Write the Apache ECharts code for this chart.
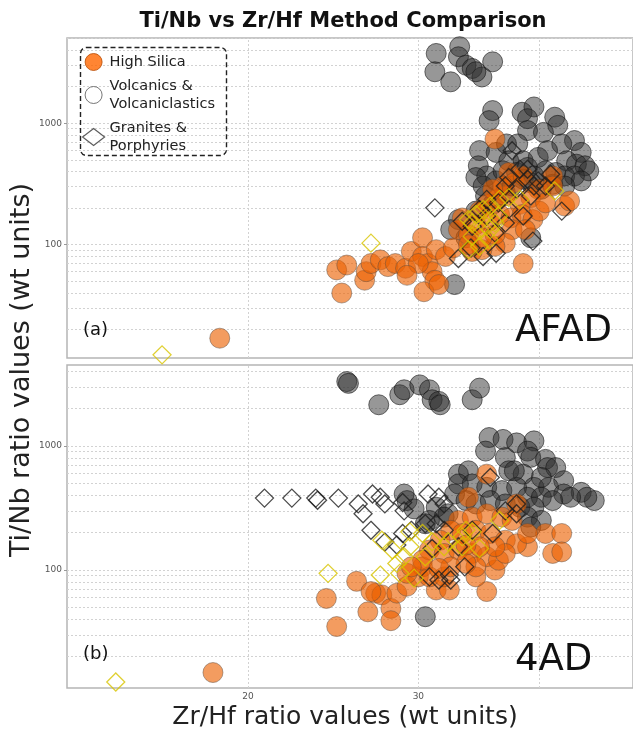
<!DOCTYPE html>
<html>
<head>
<meta charset="utf-8">
<script src="https://cdn.jsdelivr.net/npm/echarts@6/dist/echarts.min.js"></script>
<style>
html,body{margin:0;padding:0;background:#fff;}
#chart{width:633px;height:734px;}
</style>
</head>
<body>
<div id="chart"></div>
<script>
// ---------- axis ranges & ticks ----------
const xRange = [13, 50];
const yRangeA = [11.68, 5025];
const yRangeB = [11.18, 4500];
const xGridValues = [20, 30, 40];
const xLabelValues = [20, 30];
const yGridValues = [20, 30, 40, 50, 60, 70, 80, 90, 100, 200, 300, 400, 500, 600, 700, 800, 900, 1000, 2000, 3000, 4000, 5000];
const yLabelValues = [100, 1000];

// ---------- panel (a) AFAD ----------
const afadVolc = [
[31.3,3750],[33.1,4260],[33.0,3520],[31.2,2650],[32.4,2190],[33.6,3000],[34.1,2820],[34.9,2400],[35.8,3200],[34.4,2650],
[35.8,1270],[35.5,1050],[38.4,1230],[39.5,1360],[38.9,1090],[41.5,1120],[41.8,960],[38.9,870],[40.4,840],[43.5,720],
[44.2,575],[42.2,675],[34.7,595],[36.1,575],[37.0,675],[38.0,675],[37.2,490],[38.5,490],[39.9,523],[40.8,595],
[42.7,490],[43.7,460],[44.6,446],[45.0,405],[34.6,446],[35.3,368],[34.4,357],[35.0,304],[36.1,335],[36.7,405],
[37.9,393],[38.9,432],[39.5,368],[40.6,405],[41.6,393],[42.5,368],[43.5,368],[44.2,335],[42.5,304],[41.3,314],
[35.2,252],[35.8,215],[34.4,189],[33.0,161],[32.4,133],[33.6,114],[32.7,47],[39.2,114],[36.9,268],[40.2,286],
[38.5,346],[37.5,304],[39.2,324]
];
const afadHS = [
[18.7,17],
[24.7,62],[25.3,68],[25.0,40],[26.4,51],[26.5,60],[26.8,70],[27.4,75],[27.9,66],[28.4,70],[29.1,64],
[29.5,88],[30.3,114],[30.3,80],[30.7,70],[31.0,60],[31.3,91],[31.2,51],[30.4,41],[31.5,47],[32.0,80],
[32.6,94],[30.0,70],[29.2,56],
[36.0,740],[37.2,393],[37.7,324],[38.5,368],[41.3,368],[42.5,208],[43.0,229],[39.9,286],[39.2,244],[38.2,215],
[36.9,252],[36.1,236],[35.3,215],[34.7,189],[33.3,166],[33.0,133],[33.8,121],[34.4,146],[35.5,156],[36.4,177],
[37.4,166],[38.4,177],[39.4,161],[40.0,189],[40.6,221],[37.5,133],[38.7,133],[36.9,103],[36.0,97],[34.9,91],
[34.1,88],[38.5,70],[36.0,121],[34.9,114],[33.8,100],[41.3,304],[36.7,304],[35.8,286]
];
const afadGran = [
[31.2,201],[33.0,77],[33.3,156],[34.0,94],[35.0,80],[36.1,85],[39.4,107],[42.2,189],[41.1,380],[37.5,594],
[38.2,418],[38.9,418],[37.2,357],[36.9,304],[37.9,286],[39.2,252],[39.5,304],[38.5,172],[37.2,195],[36.3,221],
[35.3,236],[34.7,195],[34.1,142],[35.3,172],[36.0,125],[36.9,151],[39.9,335],[40.6,304],[38.9,346]
];
const afadHSGran = [
[16.3,12.4],[26.8,103],[41.5,277],[33.8,161],[34.4,177],[35.0,195],[35.6,208],[36.4,236],[37.2,244],[38.2,236],
[34.7,133],[35.3,142],[36.0,151],[34.1,117],[33.8,91],[34.7,97],[35.5,110],[36.3,172],[35.6,133],[34.1,151]
];

// ---------- panel (b) 4AD ----------
const ad4Volc = [
[25.3,3310],[25.4,3200],[27.3,2150],[28.7,2590],[29.0,2840],[30.1,3110],[30.8,2840],[31.0,2360],[31.5,2290],[31.6,2150],
[34.1,2360],[34.7,2930],
[35.5,1170],[36.7,1130],[37.9,1060],[39.5,1100],[35.2,910],[38.9,910],[39.2,810],[40.6,780],[40.8,670],[41.6,670],
[42.4,525],[44.2,423],[45.6,363],[44.8,386],[33.0,593],[33.8,631],[36.9,807],[37.2,631],[38.5,593],[39.5,464],
[40.9,464],[42.4,410],[43.1,386],[33.0,494],[34.1,494],[35.3,464],[36.6,437],[37.9,464],[38.9,386],[40.2,386],
[41.3,363],[32.7,410],[33.6,363],[34.4,341],[35.6,363],[36.9,341],[38.2,321],[39.5,321],[31.3,321],[32.2,284],
[30.8,251],[30.5,236],[31.9,267],[38.9,267],[40.2,251],[39.2,222],[29.2,363],[29.7,311],[29.0,410],[30.5,42],
[37.7,631],[40.2,558]
];
const ad4HS = [
[18.4,14.9],
[24.1,59],[24.7,35],[25.9,81],[26.6,46],[27.1,65],[27.5,63],[28.1,49],[28.1,39],[28.5,65],[26.8,67],
[29.2,74],[30.0,88],[31.3,69],[32.3,69],[35.3,67],[30.3,106],[29.2,94],[30.8,88],[31.9,88],[34.4,88],[36.0,100],
[35.3,593],[33.8,386],[37.9,341],[38.9,154],[40.6,197],[42.2,197],[41.3,136],[42.2,140],[33.0,251],[34.1,267],
[35.3,284],[36.6,267],[37.5,251],[32.4,209],[33.3,197],[34.4,209],[35.6,197],[36.9,174],[37.9,163],[31.6,174],
[30.8,145],[31.9,136],[33.0,145],[34.1,136],[35.3,128],[36.3,120],[34.4,106],[33.6,113],[32.4,106],[30.3,120],
[29.5,106],[31.5,103],[36.9,136],[36.0,154],[38.9,197],[34.7,154],[33.6,159]
];
const ad4Gran = [
[20.8,380],[22.2,380],[23.5,380],[23.6,365],[24.8,380],[26.0,341],[26.3,284],[26.9,410],[27.4,386],[27.7,341],
[28.9,350],[29.0,300],[30.7,410],[31.5,386],[31.9,341],[26.8,209],[27.7,168],[28.5,159],[28.9,197],[29.5,209],
[30.5,236],[31.3,236],[31.9,209],[30.8,88],[31.5,83],[32.3,91],[32.4,83],[33.5,106],[35.8,197],[36.9,300],
[37.9,341],[37.9,284],[35.6,558],[34.1,209],[33.0,154],[31.0,149]
];
const ad4HSGran = [
[14.6,12.5],[24.2,94],[27.4,91],[27.5,174],[28.7,94],[29.4,203],[29.7,86],[29.0,128],[29.4,154],[30.3,197],
[31.0,169],[32.2,169],[33.3,154],[33.6,209],[34.1,203],[34.7,149],[36.4,251],[28.5,113],[28.2,145],[30.5,128],
[31.9,154],[33.3,185]
];

// ---------- styles ----------
const FONT = 'DejaVu Sans';
const volcStyle = {color:'rgba(45,45,45,0.62)', borderColor:'rgba(20,20,20,0.75)', borderWidth:1};
const hsStyle = {color:'rgba(236,96,0,0.78)', borderColor:'rgba(95,75,60,0.6)', borderWidth:1};
const granStyle = {color:'rgba(0,0,0,0)', borderColor:'#1e1e1e', borderWidth:1.3};
const hsGranStyle = {color:'rgba(0,0,0,0)', borderColor:'#D8C400', borderWidth:1.3};

function gridMarkLine(yRange, withXLabels) {
  const data = [];
  xGridValues.forEach(v => {
    const lab = (withXLabels && xLabelValues.includes(v))
      ? {show:true, position:'start', formatter:String(v), color:'#555', fontSize:9, fontFamily:FONT, distance:4}
      : {show:false};
    data.push({xAxis:v, label:lab});
  });
  yGridValues.filter(v => v > yRange[0] && v < yRange[1]).forEach(v => data.push({yAxis:v, label:{show:false}}));
  return {
    silent:true, symbol:['none','none'], z:1, animation:false,
    lineStyle:{color:'#d2d2d2', type:[2,2], width:1},
    label:{show:false}, emphasis:{disabled:true},
    data:data
  };
}

function mkSeries(name, data, gi, symbol, size, style, ml) {
  const s = {name:name, type:'scatter', xAxisIndex:gi, yAxisIndex:gi, data:data,
    symbol:symbol, symbolSize:size, itemStyle:style, emphasis:{disabled:true}, z:2};
  if (ml) s.markLine = ml;
  return s;
}

const yLabelFmt = v => {
  const r = Math.round(Math.log10(v));
  return (Math.abs(Math.log10(v) - r) < 1e-6 && yLabelValues.includes(Math.pow(10, r))) ? String(Math.pow(10, r)) : '';
};

function yAxisDef(gi, range) {
  return {type:'log', gridIndex:gi, min:range[0], max:range[1],
    axisLine:{show:false}, splitLine:{show:false},
    axisTick:{show:true, length:3, lineStyle:{color:'#999'}},
    axisLabel:{show:true, formatter:yLabelFmt, color:'#555', fontSize:9, fontFamily:FONT, margin:5,
      showMinLabel:false, showMaxLabel:false}};
}
function xAxisDef(gi) {
  return {type:'log', gridIndex:gi, min:xRange[0], max:xRange[1],
    axisLine:{show:false}, splitLine:{show:false}, axisTick:{show:false}, axisLabel:{show:false}};
}

const chart = echarts.init(document.getElementById('chart'), null, {renderer:'canvas'});
chart.setOption({
  animation:false,
  backgroundColor:'#fff',
  title:{text:'Ti/Nb vs Zr/Hf Method Comparison', left:338, top:6, textAlign:'center',
    textStyle:{fontFamily:FONT, fontWeight:'bold', fontSize:21, color:'#111'}},
  legend:{
    orient:'vertical', left:82, top:53, padding:0, itemGap:6, itemWidth:22, itemHeight:17,
    selectedMode:false,
    textStyle:{fontFamily:FONT, fontSize:14.5, color:'#222', lineHeight:18},
    formatter: n => n.replace('& ', '&\n'),
    data:[
      {name:'High Silica', icon:'circle', itemStyle:{color:'#FF6600', borderColor:'#B84A00', borderWidth:1}},
      {name:'Volcanics & Volcaniclastics', icon:'circle', itemStyle:{color:'#fff', borderColor:'#555', borderWidth:1}},
      {name:'Granites & Porphyries', icon:'diamond', itemStyle:{color:'#fff', borderColor:'#333', borderWidth:1.2}}
    ]
  },
  grid:[
    {left:67, top:38, width:571, height:320, show:true, borderColor:'#b5b5b5', borderWidth:1.5, backgroundColor:'rgba(0,0,0,0)'},
    {left:67, top:365, width:571, height:323, show:true, borderColor:'#b5b5b5', borderWidth:1.5, backgroundColor:'rgba(0,0,0,0)'}
  ],
  xAxis:[xAxisDef(0), xAxisDef(1)],
  yAxis:[yAxisDef(0, yRangeA), yAxisDef(1, yRangeB)],
  series:[
    mkSeries('Volcanics & Volcaniclastics', afadVolc, 0, 'circle', 20, volcStyle, gridMarkLine(yRangeA, false)),
    mkSeries('High Silica', afadHS, 0, 'circle', 20, hsStyle),
    mkSeries('Granites & Porphyries', afadGran, 0, 'diamond', 18, granStyle),
    mkSeries('High Silica Granites & Porphyries', afadHSGran, 0, 'diamond', 18, hsGranStyle),
    mkSeries('Volcanics & Volcaniclastics', ad4Volc, 1, 'circle', 20, volcStyle, gridMarkLine(yRangeB, true)),
    mkSeries('High Silica', ad4HS, 1, 'circle', 20, hsStyle),
    mkSeries('Granites & Porphyries', ad4Gran, 1, 'diamond', 18, granStyle),
    mkSeries('High Silica Granites & Porphyries', ad4HSGran, 1, 'diamond', 18, hsGranStyle)
  ],
  graphic:[
    {type:'rect', left:78, top:45, shape:{width:146, height:108, r:6}, z:100,
      style:{fill:'none', stroke:'#222', lineWidth:1.4, lineDash:[5,3]}},
    {type:'text', x:22, y:370, rotation:Math.PI/2, z:100,
      style:{text:'Ti/Nb ratio values (wt units)', fontFamily:FONT, fontSize:27, fill:'#222', align:'center', verticalAlign:'middle'}},
    {type:'text', x:345, y:717, z:100,
      style:{text:'Zr/Hf ratio values (wt units)', fontFamily:FONT, fontSize:25, fill:'#222', align:'center', verticalAlign:'middle'}},
    {type:'text', x:83, y:330, z:100,
      style:{text:'(a)', fontFamily:FONT, fontSize:18, fill:'#111', align:'left', verticalAlign:'middle'}},
    {type:'text', x:515, y:331, z:100,
      style:{text:'AFAD', fontFamily:FONT, fontSize:37, fill:'#111', align:'left', verticalAlign:'middle'}},
    {type:'text', x:83, y:654, z:100,
      style:{text:'(b)', fontFamily:FONT, fontSize:18, fill:'#111', align:'left', verticalAlign:'middle'}},
    {type:'text', x:515, y:660, z:100,
      style:{text:'4AD', fontFamily:FONT, fontSize:37, fill:'#111', align:'left', verticalAlign:'middle'}}
  ]
});
</script>
</body>
</html>
